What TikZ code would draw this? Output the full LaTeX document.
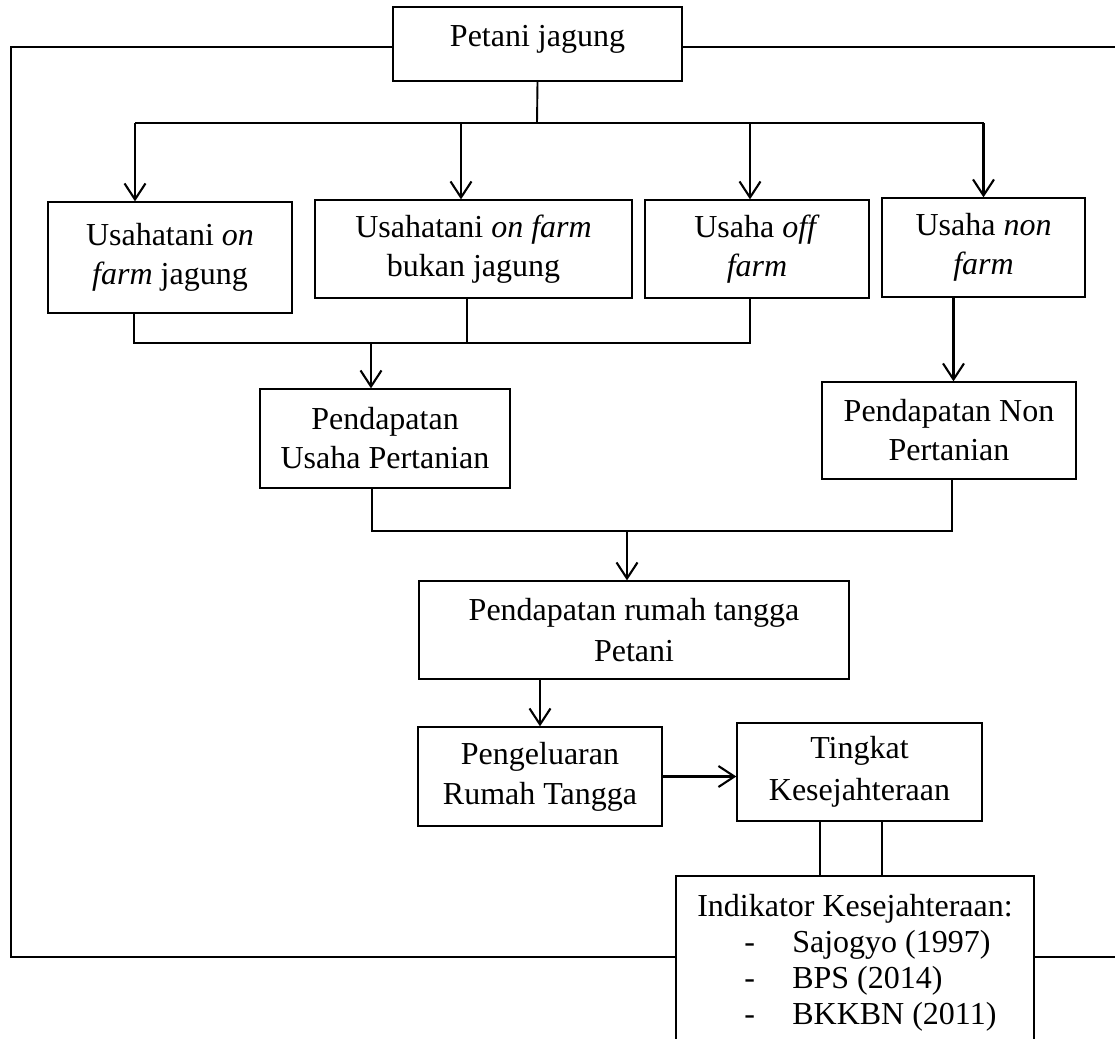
\documentclass[tikz,border=0pt]{standalone}
\usepackage{fontspec}
\setmainfont{Liberation Serif}
\usetikzlibrary{arrows.meta}

\begin{document}
\begin{tikzpicture}[x=1pt, y=-1pt, >={Straight Barb[length=16pt, width=21pt]},
           box/.style={draw=black, line width=1.3pt, align=center, inner sep=0pt,
              font=\fontsize{32pt}{39pt}\selectfont},
           connections/.style={->, draw=black, line width=2.1pt},
           links/.style={draw=black, line width=1.9pt},
           outerFrame/.style={draw=black, line width=2.5pt},
        ]
        \useasboundingbox (0,0) rectangle (1115,1038);

        \node at (537.5,44) (petani) [box, minimum width=289pt, minimum height=74pt, text height=22pt, text depth=16pt] {Petani jagung};

        \node at (170,257.5) (usahaJagung) [box, minimum width=244pt, minimum height=111pt] {Usahatani \textit{on}\\ \textit{farm} jagung};
        \node at (473.5,249) (usahaBukan) [box, minimum width=317pt, minimum height=98pt] {Usahatani \textit{on farm}\\ bukan jagung};
        \node at (757,249) (usahaOff) [box, minimum width=224pt, minimum height=98pt] {Usaha \textit{off}\\ \textit{farm}};
        \node at (983.5,247.5) (usahaNon) [box, minimum width=203pt, minimum height=99pt] {Usaha \textit{non}\\ \textit{farm}};

        \node at (385,438.5) (pendTani) [box, minimum width=250pt, minimum height=99pt] {Pendapatan\\ Usaha Pertanian};
        \node at (949,430.5) (pendNon) [box, minimum width=254pt, minimum height=97pt] {Pendapatan Non\\ Pertanian};

        \node at (634,630) (pendRT) [box, minimum width=430pt, minimum height=98pt, font=\fontsize{32pt}{41pt}\selectfont] {Pendapatan rumah tangga\\ Petani};

        \node at (540,776.5) (pengeluaran) [box, minimum width=244pt, minimum height=99pt, font=\fontsize{32pt}{40pt}\selectfont] {Pengeluaran\\ Rumah Tangga};
        \node at (859.5,772) (tingkat) [box, minimum width=245pt, minimum height=98pt, font=\fontsize{32pt}{42pt}\selectfont] {Tingkat\\ Kesejahteraan};

        \node at (855,962.5) (indikator) [box, align=left, minimum width=358pt, inner ysep=18pt, font=\fontsize{32pt}{36pt}\selectfont]
           {Indikator Kesejahteraan:\\
            \hspace*{47pt}\makebox[48pt][l]{-}Sajogyo (1997)\\
            \hspace*{47pt}\makebox[48pt][l]{-}BPS (2014)\\
            \hspace*{47pt}\makebox[48pt][l]{-}BKKBN (2011)};

        \coordinate (frameTL) at (11,47);
        \coordinate (frameTR) at (1115,47);
        \coordinate (frameBL) at (11,957);
        \coordinate (frameBR) at (1115,957);
        \draw[outerFrame] (frameTL -| petani.west) -- (frameTL) -- (frameBL) -- (frameBL -| indikator.west);
        \draw[outerFrame] (frameTR -| petani.east) -- (frameTR);
        \draw[outerFrame] (frameBR -| indikator.east) -- (frameBR);

        \coordinate (split) at (537,123);
        \draw[links] (petani.south) -- (split);
        \draw[links] ([xshift=-35pt]usahaJagung.north |- split) -- (usahaNon.north |- split);
        \draw[connections] ([xshift=-35pt]usahaJagung.north |- split) -- ([xshift=-35pt]usahaJagung.north);
        \draw[connections] ([xshift=-12.5pt]usahaBukan.north |- split) -- ([xshift=-12.5pt]usahaBukan.north);
        \draw[connections] ([xshift=-7pt]usahaOff.north |- split) -- ([xshift=-7pt]usahaOff.north);
        \draw[connections] (usahaNon.north |- split) -- (usahaNon.north);

        \coordinate (joinTani) at (371,343);
        \draw[links] ([xshift=-36pt]usahaJagung.south) -- ([xshift=-36pt]usahaJagung.south |- joinTani) -- ([xshift=-7pt]usahaOff.south |- joinTani) -- ([xshift=-7pt]usahaOff.south);
        \draw[links] ([xshift=-6.5pt]usahaBukan.south) -- ([xshift=-6.5pt]usahaBukan.south |- joinTani);
        \draw[connections] (joinTani) -- (joinTani |- pendTani.north);
        \draw[connections] ([xshift=-30pt]usahaNon.south) -- ([xshift=-30pt]usahaNon.south |- pendNon.north);

        \coordinate (joinRT) at (627,531);
        \draw[links] ([xshift=-13pt]pendTani.south) -- ([xshift=-13pt]pendTani.south |- joinRT) -- ([xshift=3pt]pendNon.south |- joinRT) -- ([xshift=3pt]pendNon.south);
        \draw[connections] (joinRT) -- (joinRT |- pendRT.north);

        \draw[connections] (pendRT.south -| pengeluaran.north) -- (pengeluaran.north);
        \draw[connections] (pengeluaran.east) -- (pengeluaran.east -| tingkat.west);
        \draw[links] ([xshift=-39.5pt]tingkat.south) -- ([xshift=-39.5pt]tingkat.south |- indikator.north);
        \draw[links] ([xshift=22.5pt]tingkat.south) -- ([xshift=22.5pt]tingkat.south |- indikator.north);
     \end{tikzpicture}
\end{document}
